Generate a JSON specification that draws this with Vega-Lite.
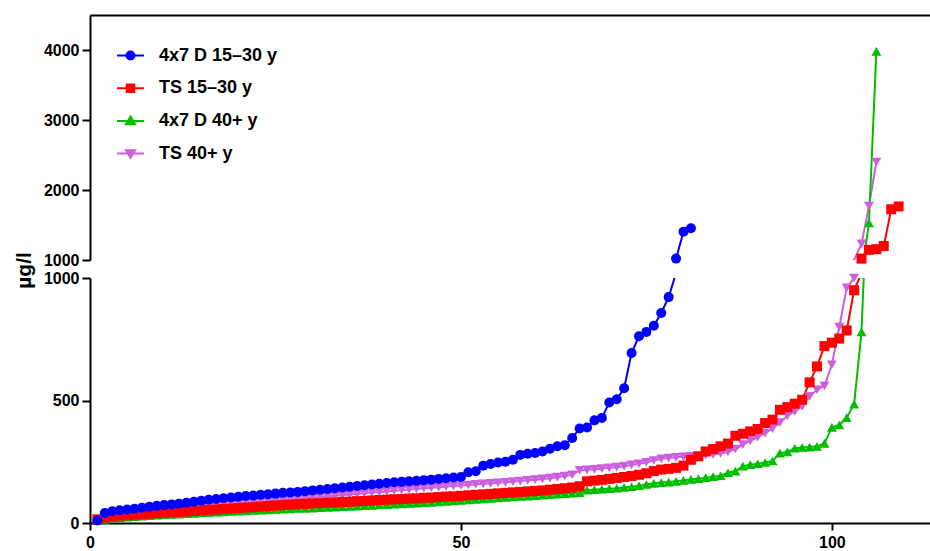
{
  "$schema": "https://vega.github.io/schema/vega-lite/v6.json",
  "background": "white",
  "padding": {"left": 13, "top": 15, "right": 0, "bottom": 0},
  "bounds": "flush",
  "spacing": 18,
  "config": {
    "font": "Liberation Sans",
    "view": {"stroke": null},
    "axis": {
      "grid": false,
      "domainColor": "black",
      "domainWidth": 2,
      "tickColor": "black",
      "tickWidth": 2,
      "labelFont": "Liberation Sans",
      "labelFontWeight": "bold",
      "labelFontSize": 16,
      "labelColor": "black",
      "labelFlush": false,
      "titleFont": "Liberation Sans",
      "titleFontWeight": "bold",
      "titleColor": "black"
    }
  },
  "resolve": {
    "scale": {"x": "independent", "y": "independent", "color": "shared", "shape": "shared"},
    "legend": {"color": "independent", "shape": "independent"}
  },
  "data": {
    "values": [
      {"series": "TS 40+ y", "rank": 1, "value": 12}, {"series": "TS 40+ y", "rank": 2, "value": 22}, {"series": "TS 40+ y", "rank": 3, "value": 28}, {"series": "TS 40+ y", "rank": 4, "value": 32}, {"series": "TS 40+ y", "rank": 5, "value": 36}, {"series": "TS 40+ y", "rank": 6, "value": 39}, {"series": "TS 40+ y", "rank": 7, "value": 42}, {"series": "TS 40+ y", "rank": 8, "value": 45}, {"series": "TS 40+ y", "rank": 9, "value": 48}, {"series": "TS 40+ y", "rank": 10, "value": 51},
      {"series": "TS 40+ y", "rank": 11, "value": 54}, {"series": "TS 40+ y", "rank": 12, "value": 57}, {"series": "TS 40+ y", "rank": 13, "value": 60}, {"series": "TS 40+ y", "rank": 14, "value": 63}, {"series": "TS 40+ y", "rank": 15, "value": 66}, {"series": "TS 40+ y", "rank": 16, "value": 68}, {"series": "TS 40+ y", "rank": 17, "value": 71}, {"series": "TS 40+ y", "rank": 18, "value": 73}, {"series": "TS 40+ y", "rank": 19, "value": 76}, {"series": "TS 40+ y", "rank": 20, "value": 78},
      {"series": "TS 40+ y", "rank": 21, "value": 81}, {"series": "TS 40+ y", "rank": 22, "value": 83}, {"series": "TS 40+ y", "rank": 23, "value": 86}, {"series": "TS 40+ y", "rank": 24, "value": 88}, {"series": "TS 40+ y", "rank": 25, "value": 91}, {"series": "TS 40+ y", "rank": 26, "value": 93}, {"series": "TS 40+ y", "rank": 27, "value": 96}, {"series": "TS 40+ y", "rank": 28, "value": 98}, {"series": "TS 40+ y", "rank": 29, "value": 101}, {"series": "TS 40+ y", "rank": 30, "value": 103},
      {"series": "TS 40+ y", "rank": 31, "value": 106}, {"series": "TS 40+ y", "rank": 32, "value": 108}, {"series": "TS 40+ y", "rank": 33, "value": 111}, {"series": "TS 40+ y", "rank": 34, "value": 113}, {"series": "TS 40+ y", "rank": 35, "value": 116}, {"series": "TS 40+ y", "rank": 36, "value": 118}, {"series": "TS 40+ y", "rank": 37, "value": 121}, {"series": "TS 40+ y", "rank": 38, "value": 124}, {"series": "TS 40+ y", "rank": 39, "value": 127}, {"series": "TS 40+ y", "rank": 40, "value": 129},
      {"series": "TS 40+ y", "rank": 41, "value": 132}, {"series": "TS 40+ y", "rank": 42, "value": 134}, {"series": "TS 40+ y", "rank": 43, "value": 137}, {"series": "TS 40+ y", "rank": 44, "value": 139}, {"series": "TS 40+ y", "rank": 45, "value": 142}, {"series": "TS 40+ y", "rank": 46, "value": 144}, {"series": "TS 40+ y", "rank": 47, "value": 146}, {"series": "TS 40+ y", "rank": 48, "value": 149}, {"series": "TS 40+ y", "rank": 49, "value": 151}, {"series": "TS 40+ y", "rank": 50, "value": 153},
      {"series": "TS 40+ y", "rank": 51, "value": 155}, {"series": "TS 40+ y", "rank": 52, "value": 158}, {"series": "TS 40+ y", "rank": 53, "value": 160}, {"series": "TS 40+ y", "rank": 54, "value": 162}, {"series": "TS 40+ y", "rank": 55, "value": 164}, {"series": "TS 40+ y", "rank": 56, "value": 166}, {"series": "TS 40+ y", "rank": 57, "value": 169}, {"series": "TS 40+ y", "rank": 58, "value": 171}, {"series": "TS 40+ y", "rank": 59, "value": 174}, {"series": "TS 40+ y", "rank": 60, "value": 177},
      {"series": "TS 40+ y", "rank": 61, "value": 180}, {"series": "TS 40+ y", "rank": 62, "value": 183}, {"series": "TS 40+ y", "rank": 63, "value": 187}, {"series": "TS 40+ y", "rank": 64, "value": 192}, {"series": "TS 40+ y", "rank": 65, "value": 197}, {"series": "TS 40+ y", "rank": 66, "value": 215}, {"series": "TS 40+ y", "rank": 67, "value": 217}, {"series": "TS 40+ y", "rank": 68, "value": 219}, {"series": "TS 40+ y", "rank": 69, "value": 222}, {"series": "TS 40+ y", "rank": 70, "value": 225},
      {"series": "TS 40+ y", "rank": 71, "value": 228}, {"series": "TS 40+ y", "rank": 72, "value": 232}, {"series": "TS 40+ y", "rank": 73, "value": 237}, {"series": "TS 40+ y", "rank": 74, "value": 242}, {"series": "TS 40+ y", "rank": 75, "value": 248}, {"series": "TS 40+ y", "rank": 76, "value": 255}, {"series": "TS 40+ y", "rank": 77, "value": 262}, {"series": "TS 40+ y", "rank": 78, "value": 265}, {"series": "TS 40+ y", "rank": 79, "value": 268}, {"series": "TS 40+ y", "rank": 80, "value": 270},
      {"series": "TS 40+ y", "rank": 81, "value": 272}, {"series": "TS 40+ y", "rank": 82, "value": 274}, {"series": "TS 40+ y", "rank": 83, "value": 277}, {"series": "TS 40+ y", "rank": 84, "value": 280}, {"series": "TS 40+ y", "rank": 85, "value": 284}, {"series": "TS 40+ y", "rank": 86, "value": 290}, {"series": "TS 40+ y", "rank": 87, "value": 302}, {"series": "TS 40+ y", "rank": 88, "value": 320}, {"series": "TS 40+ y", "rank": 89, "value": 335}, {"series": "TS 40+ y", "rank": 90, "value": 350},
      {"series": "TS 40+ y", "rank": 91, "value": 367}, {"series": "TS 40+ y", "rank": 92, "value": 385}, {"series": "TS 40+ y", "rank": 93, "value": 410}, {"series": "TS 40+ y", "rank": 94, "value": 438}, {"series": "TS 40+ y", "rank": 95, "value": 455}, {"series": "TS 40+ y", "rank": 96, "value": 476}, {"series": "TS 40+ y", "rank": 97, "value": 517}, {"series": "TS 40+ y", "rank": 98, "value": 544}, {"series": "TS 40+ y", "rank": 99, "value": 560}, {"series": "TS 40+ y", "rank": 100, "value": 646},
      {"series": "TS 40+ y", "rank": 101, "value": 800}, {"series": "TS 40+ y", "rank": 102, "value": 960}, {"series": "TS 40+ y", "rank": 103, "value": 1000}, {"series": "TS 40+ y", "rank": 104, "value": 1230}, {"series": "TS 40+ y", "rank": 105, "value": 1770}, {"series": "TS 40+ y", "rank": 106, "value": 2400},

      {"series": "4x7 D 40+ y", "rank": 1, "value": 10}, {"series": "4x7 D 40+ y", "rank": 2, "value": 15}, {"series": "4x7 D 40+ y", "rank": 3, "value": 20}, {"series": "4x7 D 40+ y", "rank": 4, "value": 22}, {"series": "4x7 D 40+ y", "rank": 5, "value": 24}, {"series": "4x7 D 40+ y", "rank": 6, "value": 26}, {"series": "4x7 D 40+ y", "rank": 7, "value": 28}, {"series": "4x7 D 40+ y", "rank": 8, "value": 30}, {"series": "4x7 D 40+ y", "rank": 9, "value": 32}, {"series": "4x7 D 40+ y", "rank": 10, "value": 33},
      {"series": "4x7 D 40+ y", "rank": 11, "value": 35}, {"series": "4x7 D 40+ y", "rank": 12, "value": 36}, {"series": "4x7 D 40+ y", "rank": 13, "value": 38}, {"series": "4x7 D 40+ y", "rank": 14, "value": 39}, {"series": "4x7 D 40+ y", "rank": 15, "value": 41}, {"series": "4x7 D 40+ y", "rank": 16, "value": 42}, {"series": "4x7 D 40+ y", "rank": 17, "value": 44}, {"series": "4x7 D 40+ y", "rank": 18, "value": 45}, {"series": "4x7 D 40+ y", "rank": 19, "value": 47}, {"series": "4x7 D 40+ y", "rank": 20, "value": 48},
      {"series": "4x7 D 40+ y", "rank": 21, "value": 49}, {"series": "4x7 D 40+ y", "rank": 22, "value": 51}, {"series": "4x7 D 40+ y", "rank": 23, "value": 52}, {"series": "4x7 D 40+ y", "rank": 24, "value": 53}, {"series": "4x7 D 40+ y", "rank": 25, "value": 55}, {"series": "4x7 D 40+ y", "rank": 26, "value": 56}, {"series": "4x7 D 40+ y", "rank": 27, "value": 57}, {"series": "4x7 D 40+ y", "rank": 28, "value": 59}, {"series": "4x7 D 40+ y", "rank": 29, "value": 60}, {"series": "4x7 D 40+ y", "rank": 30, "value": 61},
      {"series": "4x7 D 40+ y", "rank": 31, "value": 63}, {"series": "4x7 D 40+ y", "rank": 32, "value": 64}, {"series": "4x7 D 40+ y", "rank": 33, "value": 65}, {"series": "4x7 D 40+ y", "rank": 34, "value": 67}, {"series": "4x7 D 40+ y", "rank": 35, "value": 68}, {"series": "4x7 D 40+ y", "rank": 36, "value": 69}, {"series": "4x7 D 40+ y", "rank": 37, "value": 71}, {"series": "4x7 D 40+ y", "rank": 38, "value": 72}, {"series": "4x7 D 40+ y", "rank": 39, "value": 74}, {"series": "4x7 D 40+ y", "rank": 40, "value": 75},
      {"series": "4x7 D 40+ y", "rank": 41, "value": 77}, {"series": "4x7 D 40+ y", "rank": 42, "value": 78}, {"series": "4x7 D 40+ y", "rank": 43, "value": 80}, {"series": "4x7 D 40+ y", "rank": 44, "value": 81}, {"series": "4x7 D 40+ y", "rank": 45, "value": 83}, {"series": "4x7 D 40+ y", "rank": 46, "value": 84}, {"series": "4x7 D 40+ y", "rank": 47, "value": 86}, {"series": "4x7 D 40+ y", "rank": 48, "value": 88}, {"series": "4x7 D 40+ y", "rank": 49, "value": 90}, {"series": "4x7 D 40+ y", "rank": 50, "value": 92},
      {"series": "4x7 D 40+ y", "rank": 51, "value": 94}, {"series": "4x7 D 40+ y", "rank": 52, "value": 96}, {"series": "4x7 D 40+ y", "rank": 53, "value": 98}, {"series": "4x7 D 40+ y", "rank": 54, "value": 100}, {"series": "4x7 D 40+ y", "rank": 55, "value": 102}, {"series": "4x7 D 40+ y", "rank": 56, "value": 104}, {"series": "4x7 D 40+ y", "rank": 57, "value": 106}, {"series": "4x7 D 40+ y", "rank": 58, "value": 108}, {"series": "4x7 D 40+ y", "rank": 59, "value": 110}, {"series": "4x7 D 40+ y", "rank": 60, "value": 112},
      {"series": "4x7 D 40+ y", "rank": 61, "value": 114}, {"series": "4x7 D 40+ y", "rank": 62, "value": 116}, {"series": "4x7 D 40+ y", "rank": 63, "value": 118}, {"series": "4x7 D 40+ y", "rank": 64, "value": 120}, {"series": "4x7 D 40+ y", "rank": 65, "value": 122}, {"series": "4x7 D 40+ y", "rank": 66, "value": 124}, {"series": "4x7 D 40+ y", "rank": 67, "value": 134}, {"series": "4x7 D 40+ y", "rank": 68, "value": 136}, {"series": "4x7 D 40+ y", "rank": 69, "value": 138}, {"series": "4x7 D 40+ y", "rank": 70, "value": 140},
      {"series": "4x7 D 40+ y", "rank": 71, "value": 142}, {"series": "4x7 D 40+ y", "rank": 72, "value": 145}, {"series": "4x7 D 40+ y", "rank": 73, "value": 148}, {"series": "4x7 D 40+ y", "rank": 74, "value": 152}, {"series": "4x7 D 40+ y", "rank": 75, "value": 157}, {"series": "4x7 D 40+ y", "rank": 76, "value": 162}, {"series": "4x7 D 40+ y", "rank": 77, "value": 165}, {"series": "4x7 D 40+ y", "rank": 78, "value": 167}, {"series": "4x7 D 40+ y", "rank": 79, "value": 170}, {"series": "4x7 D 40+ y", "rank": 80, "value": 174},
      {"series": "4x7 D 40+ y", "rank": 81, "value": 178}, {"series": "4x7 D 40+ y", "rank": 82, "value": 181}, {"series": "4x7 D 40+ y", "rank": 83, "value": 185}, {"series": "4x7 D 40+ y", "rank": 84, "value": 189}, {"series": "4x7 D 40+ y", "rank": 85, "value": 193}, {"series": "4x7 D 40+ y", "rank": 86, "value": 205}, {"series": "4x7 D 40+ y", "rank": 87, "value": 212}, {"series": "4x7 D 40+ y", "rank": 88, "value": 232}, {"series": "4x7 D 40+ y", "rank": 89, "value": 238}, {"series": "4x7 D 40+ y", "rank": 90, "value": 242},
      {"series": "4x7 D 40+ y", "rank": 91, "value": 247}, {"series": "4x7 D 40+ y", "rank": 92, "value": 253}, {"series": "4x7 D 40+ y", "rank": 93, "value": 285}, {"series": "4x7 D 40+ y", "rank": 94, "value": 290}, {"series": "4x7 D 40+ y", "rank": 95, "value": 305}, {"series": "4x7 D 40+ y", "rank": 96, "value": 308}, {"series": "4x7 D 40+ y", "rank": 97, "value": 310}, {"series": "4x7 D 40+ y", "rank": 98, "value": 313}, {"series": "4x7 D 40+ y", "rank": 99, "value": 325}, {"series": "4x7 D 40+ y", "rank": 100, "value": 390},
      {"series": "4x7 D 40+ y", "rank": 101, "value": 400}, {"series": "4x7 D 40+ y", "rank": 102, "value": 430}, {"series": "4x7 D 40+ y", "rank": 103, "value": 485}, {"series": "4x7 D 40+ y", "rank": 104, "value": 780}, {"series": "4x7 D 40+ y", "rank": 105, "value": 1530}, {"series": "4x7 D 40+ y", "rank": 106, "value": 3980},

      {"series": "TS 15–30 y", "rank": 1, "value": 15}, {"series": "TS 15–30 y", "rank": 2, "value": 22}, {"series": "TS 15–30 y", "rank": 3, "value": 27}, {"series": "TS 15–30 y", "rank": 4, "value": 30}, {"series": "TS 15–30 y", "rank": 5, "value": 32}, {"series": "TS 15–30 y", "rank": 6, "value": 34}, {"series": "TS 15–30 y", "rank": 7, "value": 36}, {"series": "TS 15–30 y", "rank": 8, "value": 38}, {"series": "TS 15–30 y", "rank": 9, "value": 40}, {"series": "TS 15–30 y", "rank": 10, "value": 42},
      {"series": "TS 15–30 y", "rank": 11, "value": 43}, {"series": "TS 15–30 y", "rank": 12, "value": 45}, {"series": "TS 15–30 y", "rank": 13, "value": 47}, {"series": "TS 15–30 y", "rank": 14, "value": 49}, {"series": "TS 15–30 y", "rank": 15, "value": 51}, {"series": "TS 15–30 y", "rank": 16, "value": 53}, {"series": "TS 15–30 y", "rank": 17, "value": 55}, {"series": "TS 15–30 y", "rank": 18, "value": 57}, {"series": "TS 15–30 y", "rank": 19, "value": 59}, {"series": "TS 15–30 y", "rank": 20, "value": 61},
      {"series": "TS 15–30 y", "rank": 21, "value": 63}, {"series": "TS 15–30 y", "rank": 22, "value": 65}, {"series": "TS 15–30 y", "rank": 23, "value": 67}, {"series": "TS 15–30 y", "rank": 24, "value": 69}, {"series": "TS 15–30 y", "rank": 25, "value": 71}, {"series": "TS 15–30 y", "rank": 26, "value": 73}, {"series": "TS 15–30 y", "rank": 27, "value": 75}, {"series": "TS 15–30 y", "rank": 28, "value": 77}, {"series": "TS 15–30 y", "rank": 29, "value": 78}, {"series": "TS 15–30 y", "rank": 30, "value": 80},
      {"series": "TS 15–30 y", "rank": 31, "value": 81}, {"series": "TS 15–30 y", "rank": 32, "value": 83}, {"series": "TS 15–30 y", "rank": 33, "value": 84}, {"series": "TS 15–30 y", "rank": 34, "value": 86}, {"series": "TS 15–30 y", "rank": 35, "value": 87}, {"series": "TS 15–30 y", "rank": 36, "value": 89}, {"series": "TS 15–30 y", "rank": 37, "value": 90}, {"series": "TS 15–30 y", "rank": 38, "value": 92}, {"series": "TS 15–30 y", "rank": 39, "value": 94}, {"series": "TS 15–30 y", "rank": 40, "value": 95},
      {"series": "TS 15–30 y", "rank": 41, "value": 97}, {"series": "TS 15–30 y", "rank": 42, "value": 98}, {"series": "TS 15–30 y", "rank": 43, "value": 100}, {"series": "TS 15–30 y", "rank": 44, "value": 101}, {"series": "TS 15–30 y", "rank": 45, "value": 103}, {"series": "TS 15–30 y", "rank": 46, "value": 104}, {"series": "TS 15–30 y", "rank": 47, "value": 106}, {"series": "TS 15–30 y", "rank": 48, "value": 108}, {"series": "TS 15–30 y", "rank": 49, "value": 109}, {"series": "TS 15–30 y", "rank": 50, "value": 111},
      {"series": "TS 15–30 y", "rank": 51, "value": 113}, {"series": "TS 15–30 y", "rank": 52, "value": 115}, {"series": "TS 15–30 y", "rank": 53, "value": 117}, {"series": "TS 15–30 y", "rank": 54, "value": 119}, {"series": "TS 15–30 y", "rank": 55, "value": 121}, {"series": "TS 15–30 y", "rank": 56, "value": 123}, {"series": "TS 15–30 y", "rank": 57, "value": 125}, {"series": "TS 15–30 y", "rank": 58, "value": 127}, {"series": "TS 15–30 y", "rank": 59, "value": 129}, {"series": "TS 15–30 y", "rank": 60, "value": 131},
      {"series": "TS 15–30 y", "rank": 61, "value": 133}, {"series": "TS 15–30 y", "rank": 62, "value": 136}, {"series": "TS 15–30 y", "rank": 63, "value": 139}, {"series": "TS 15–30 y", "rank": 64, "value": 142}, {"series": "TS 15–30 y", "rank": 65, "value": 145}, {"series": "TS 15–30 y", "rank": 66, "value": 150}, {"series": "TS 15–30 y", "rank": 67, "value": 170}, {"series": "TS 15–30 y", "rank": 68, "value": 173}, {"series": "TS 15–30 y", "rank": 69, "value": 176}, {"series": "TS 15–30 y", "rank": 70, "value": 180},
      {"series": "TS 15–30 y", "rank": 71, "value": 184}, {"series": "TS 15–30 y", "rank": 72, "value": 188}, {"series": "TS 15–30 y", "rank": 73, "value": 192}, {"series": "TS 15–30 y", "rank": 74, "value": 197}, {"series": "TS 15–30 y", "rank": 75, "value": 203}, {"series": "TS 15–30 y", "rank": 76, "value": 212}, {"series": "TS 15–30 y", "rank": 77, "value": 218}, {"series": "TS 15–30 y", "rank": 78, "value": 221}, {"series": "TS 15–30 y", "rank": 79, "value": 225}, {"series": "TS 15–30 y", "rank": 80, "value": 234},
      {"series": "TS 15–30 y", "rank": 81, "value": 258}, {"series": "TS 15–30 y", "rank": 82, "value": 272}, {"series": "TS 15–30 y", "rank": 83, "value": 292}, {"series": "TS 15–30 y", "rank": 84, "value": 302}, {"series": "TS 15–30 y", "rank": 85, "value": 313}, {"series": "TS 15–30 y", "rank": 86, "value": 324}, {"series": "TS 15–30 y", "rank": 87, "value": 356}, {"series": "TS 15–30 y", "rank": 88, "value": 364}, {"series": "TS 15–30 y", "rank": 89, "value": 374}, {"series": "TS 15–30 y", "rank": 90, "value": 384},
      {"series": "TS 15–30 y", "rank": 91, "value": 408}, {"series": "TS 15–30 y", "rank": 92, "value": 422}, {"series": "TS 15–30 y", "rank": 93, "value": 462}, {"series": "TS 15–30 y", "rank": 94, "value": 473}, {"series": "TS 15–30 y", "rank": 95, "value": 487}, {"series": "TS 15–30 y", "rank": 96, "value": 503}, {"series": "TS 15–30 y", "rank": 97, "value": 574}, {"series": "TS 15–30 y", "rank": 98, "value": 639}, {"series": "TS 15–30 y", "rank": 99, "value": 722}, {"series": "TS 15–30 y", "rank": 100, "value": 736},
      {"series": "TS 15–30 y", "rank": 101, "value": 753}, {"series": "TS 15–30 y", "rank": 102, "value": 786}, {"series": "TS 15–30 y", "rank": 103, "value": 950}, {"series": "TS 15–30 y", "rank": 104, "value": 1020}, {"series": "TS 15–30 y", "rank": 105, "value": 1145}, {"series": "TS 15–30 y", "rank": 106, "value": 1155}, {"series": "TS 15–30 y", "rank": 107, "value": 1200}, {"series": "TS 15–30 y", "rank": 108, "value": 1725}, {"series": "TS 15–30 y", "rank": 109, "value": 1765},

      {"series": "4x7 D 15–30 y", "rank": 1, "value": 10}, {"series": "4x7 D 15–30 y", "rank": 2, "value": 41}, {"series": "4x7 D 15–30 y", "rank": 3, "value": 48}, {"series": "4x7 D 15–30 y", "rank": 4, "value": 52}, {"series": "4x7 D 15–30 y", "rank": 5, "value": 55}, {"series": "4x7 D 15–30 y", "rank": 6, "value": 58}, {"series": "4x7 D 15–30 y", "rank": 7, "value": 62}, {"series": "4x7 D 15–30 y", "rank": 8, "value": 66}, {"series": "4x7 D 15–30 y", "rank": 9, "value": 70}, {"series": "4x7 D 15–30 y", "rank": 10, "value": 73},
      {"series": "4x7 D 15–30 y", "rank": 11, "value": 76}, {"series": "4x7 D 15–30 y", "rank": 12, "value": 79}, {"series": "4x7 D 15–30 y", "rank": 13, "value": 83}, {"series": "4x7 D 15–30 y", "rank": 14, "value": 87}, {"series": "4x7 D 15–30 y", "rank": 15, "value": 91}, {"series": "4x7 D 15–30 y", "rank": 16, "value": 95}, {"series": "4x7 D 15–30 y", "rank": 17, "value": 98}, {"series": "4x7 D 15–30 y", "rank": 18, "value": 101}, {"series": "4x7 D 15–30 y", "rank": 19, "value": 104}, {"series": "4x7 D 15–30 y", "rank": 20, "value": 107},
      {"series": "4x7 D 15–30 y", "rank": 21, "value": 110}, {"series": "4x7 D 15–30 y", "rank": 22, "value": 112}, {"series": "4x7 D 15–30 y", "rank": 23, "value": 115}, {"series": "4x7 D 15–30 y", "rank": 24, "value": 117}, {"series": "4x7 D 15–30 y", "rank": 25, "value": 120}, {"series": "4x7 D 15–30 y", "rank": 26, "value": 123}, {"series": "4x7 D 15–30 y", "rank": 27, "value": 125}, {"series": "4x7 D 15–30 y", "rank": 28, "value": 127}, {"series": "4x7 D 15–30 y", "rank": 29, "value": 130}, {"series": "4x7 D 15–30 y", "rank": 30, "value": 133},
      {"series": "4x7 D 15–30 y", "rank": 31, "value": 136}, {"series": "4x7 D 15–30 y", "rank": 32, "value": 139}, {"series": "4x7 D 15–30 y", "rank": 33, "value": 142}, {"series": "4x7 D 15–30 y", "rank": 34, "value": 145}, {"series": "4x7 D 15–30 y", "rank": 35, "value": 148}, {"series": "4x7 D 15–30 y", "rank": 36, "value": 151}, {"series": "4x7 D 15–30 y", "rank": 37, "value": 154}, {"series": "4x7 D 15–30 y", "rank": 38, "value": 157}, {"series": "4x7 D 15–30 y", "rank": 39, "value": 160}, {"series": "4x7 D 15–30 y", "rank": 40, "value": 163},
      {"series": "4x7 D 15–30 y", "rank": 41, "value": 166}, {"series": "4x7 D 15–30 y", "rank": 42, "value": 168}, {"series": "4x7 D 15–30 y", "rank": 43, "value": 170}, {"series": "4x7 D 15–30 y", "rank": 44, "value": 172}, {"series": "4x7 D 15–30 y", "rank": 45, "value": 175}, {"series": "4x7 D 15–30 y", "rank": 46, "value": 177}, {"series": "4x7 D 15–30 y", "rank": 47, "value": 180}, {"series": "4x7 D 15–30 y", "rank": 48, "value": 183}, {"series": "4x7 D 15–30 y", "rank": 49, "value": 186}, {"series": "4x7 D 15–30 y", "rank": 50, "value": 188},
      {"series": "4x7 D 15–30 y", "rank": 51, "value": 207}, {"series": "4x7 D 15–30 y", "rank": 52, "value": 211}, {"series": "4x7 D 15–30 y", "rank": 53, "value": 234}, {"series": "4x7 D 15–30 y", "rank": 54, "value": 241}, {"series": "4x7 D 15–30 y", "rank": 55, "value": 247}, {"series": "4x7 D 15–30 y", "rank": 56, "value": 250}, {"series": "4x7 D 15–30 y", "rank": 57, "value": 258}, {"series": "4x7 D 15–30 y", "rank": 58, "value": 278}, {"series": "4x7 D 15–30 y", "rank": 59, "value": 283}, {"series": "4x7 D 15–30 y", "rank": 60, "value": 286},
      {"series": "4x7 D 15–30 y", "rank": 61, "value": 292}, {"series": "4x7 D 15–30 y", "rank": 62, "value": 303}, {"series": "4x7 D 15–30 y", "rank": 63, "value": 313}, {"series": "4x7 D 15–30 y", "rank": 64, "value": 317}, {"series": "4x7 D 15–30 y", "rank": 65, "value": 347}, {"series": "4x7 D 15–30 y", "rank": 66, "value": 386}, {"series": "4x7 D 15–30 y", "rank": 67, "value": 390}, {"series": "4x7 D 15–30 y", "rank": 68, "value": 419}, {"series": "4x7 D 15–30 y", "rank": 69, "value": 429}, {"series": "4x7 D 15–30 y", "rank": 70, "value": 492},
      {"series": "4x7 D 15–30 y", "rank": 71, "value": 505}, {"series": "4x7 D 15–30 y", "rank": 72, "value": 550}, {"series": "4x7 D 15–30 y", "rank": 73, "value": 694}, {"series": "4x7 D 15–30 y", "rank": 74, "value": 762}, {"series": "4x7 D 15–30 y", "rank": 75, "value": 780}, {"series": "4x7 D 15–30 y", "rank": 76, "value": 805}, {"series": "4x7 D 15–30 y", "rank": 77, "value": 857}, {"series": "4x7 D 15–30 y", "rank": 78, "value": 922}, {"series": "4x7 D 15–30 y", "rank": 79, "value": 1020}, {"series": "4x7 D 15–30 y", "rank": 80, "value": 1404},
      {"series": "4x7 D 15–30 y", "rank": 81, "value": 1453}
    ]
  },
  "vconcat": [
    {
      "width": 842,
      "height": 245,
      "encoding": {
        "x": {
          "field": "rank", "type": "quantitative",
          "scale": {"domain": [0, 113.5], "nice": false, "zero": false},
          "axis": {"orient": "top", "labels": false, "ticks": false, "title": null}
        },
        "y": {
          "field": "value", "type": "quantitative",
          "scale": {"domain": [1000, 4500], "nice": false, "zero": false},
          "axis": {"values": [1000, 2000, 3000, 4000], "format": "d", "title": null, "tickSize": 8, "labelPadding": 3}
        }
      },
      "resolve": {"legend": {"color": "independent", "shape": "independent"}},
      "layer": [
        {
          "mark": {"type": "line", "strokeWidth": 2, "clip": true},
          "encoding": {
            "color": {
              "field": "series", "type": "nominal",
              "scale": {"domain": ["4x7 D 15–30 y", "TS 15–30 y", "4x7 D 40+ y", "TS 40+ y"], "range": ["#0000FF", "#FF0000", "#00BF00", "#CC5FDD"]},
              "legend": {
                "orient": "none", "legendX": 26, "legendY": 26, "title": null, "padding": 0,
                "labelFont": "Liberation Sans", "labelFontSize": 18, "labelFontWeight": "bold", "labelColor": "black",
                "labelOffset": 14, "symbolSize": 729, "rowPadding": 8.7, "symbolStrokeWidth": 2, "symbolOpacity": 1,
                "encode": {
                  "symbols": {
                    "update": {
                      "shape": {"signal": "datum.value === '4x7 D 15–30 y' ? 'M-1,0H1M0.3,0A0.3,0.3,0,1,1,-0.3,0A0.3,0.3,0,1,1,0.3,0Z' : datum.value === 'TS 15–30 y' ? 'M-1,0H1M-0.28,-0.28H0.28V0.28H-0.28Z' : datum.value === '4x7 D 40+ y' ? 'M-1,0H1M0,-0.32L0.34,0.24L-0.34,0.24Z' : 'M-1,0H1M0,0.32L0.34,-0.24L-0.34,-0.24Z'"},
                      "fill": {"scale": "color", "field": "value"},
                      "strokeWidth": {"value": 2}
                    }
                  }
                }
              }
            }
          }
        },
        {
          "transform": [{"filter": "datum.value > 1000"}],
          "mark": {"type": "point", "filled": true, "size": 100, "opacity": 1},
          "encoding": {
            "color": {"field": "series", "type": "nominal", "legend": null},
            "shape": {
              "field": "series", "type": "nominal",
              "scale": {"domain": ["4x7 D 15–30 y", "TS 15–30 y", "4x7 D 40+ y", "TS 40+ y"], "range": ["circle", "square", "triangle-up", "triangle-down"]},
              "legend": null
            }
          }
        }
      ]
    },
    {
      "width": 842,
      "height": 245,
      "encoding": {
        "x": {
          "field": "rank", "type": "quantitative",
          "scale": {"domain": [0, 113.5], "nice": false, "zero": false},
          "axis": {"values": [0, 50, 100], "title": null, "tickSize": 7, "labelPadding": 4}
        },
        "y": {
          "field": "value", "type": "quantitative",
          "scale": {"domain": [0, 1000], "nice": false},
          "axis": {
            "values": [0, 500, 1000], "format": "d", "tickSize": 8, "labelPadding": 3,
            "title": "µg/l", "titleFontSize": 21, "titleAngle": -90, "titleAlign": "center", "titleBaseline": "alphabetic",
            "titleX": -60, "titleY": -8
          }
        },
        "color": {"field": "series", "type": "nominal", "legend": null}
      },
      "layer": [
        {
          "mark": {"type": "line", "strokeWidth": 2, "clip": true}
        },
        {
          "transform": [{"filter": "datum.value <= 1000"}],
          "mark": {"type": "point", "filled": true, "size": 100, "opacity": 1},
          "encoding": {
            "shape": {"field": "series", "type": "nominal", "legend": null}
          }
        }
      ]
    }
  ]
}
